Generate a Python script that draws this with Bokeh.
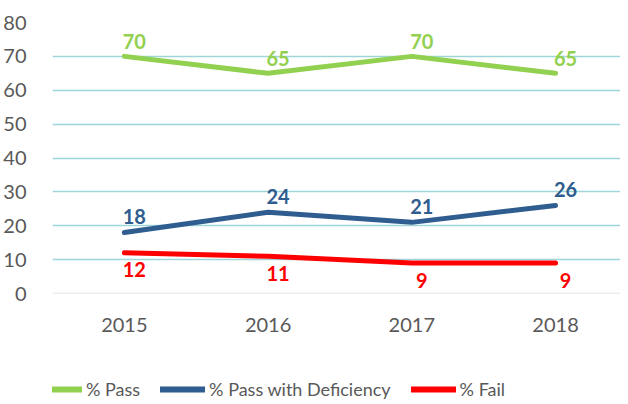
from bokeh.plotting import figure
from bokeh.layouts import column
from bokeh.models import (ColumnDataSource, Range1d, FixedTicker, Span, Legend,
                          LegendItem, LabelSet)
from bokeh.core.properties import value
from bokeh.embed import file_html
from bokeh.resources import INLINE

years = [2015, 2016, 2017, 2018]
year_labels = ["2015", "2016", "2017", "2018"]
pass_vals = [70, 65, 70, 65]
pass_def_vals = [18, 24, 21, 26]
fail_vals = [12, 11, 9, 9]
y_ticks = [0, 10, 20, 30, 40, 50, 60, 70, 80]
series_names = ["% Pass", "% Pass with Deficiency", "% Fail"]

GREEN = "#92D050"
BLUE = "#2F5D8F"
RED = "#FF0000"
GRAY = "#595959"
FONT = "Lato"
colors = [GREEN, BLUE, RED]

p = figure(width=620, height=348, output_backend="svg", toolbar_location=None,
           x_range=Range1d(2014.5, 2018.452), y_range=Range1d(0, 80),
           min_border_left=47, min_border_right=0, min_border_top=22,
           min_border_bottom=55)
p.outline_line_color = None
p.background_fill_color = "white"
p.border_fill_color = "white"

p.yaxis.ticker = FixedTicker(ticks=y_ticks)
p.yaxis.axis_line_color = None
p.yaxis.major_tick_line_color = None
p.yaxis.minor_tick_line_color = None
p.yaxis.major_label_text_font = FONT
p.yaxis.major_label_text_font_size = "20px"
p.yaxis.major_label_text_color = GRAY
p.yaxis.major_label_standoff = 20

p.xaxis.ticker = FixedTicker(ticks=years)
p.xaxis.major_label_overrides = {y: l for y, l in zip(years, year_labels)}
p.xaxis.axis_line_color = None
p.xaxis.major_tick_line_color = None
p.xaxis.minor_tick_line_color = None
p.xaxis.major_label_text_font = FONT
p.xaxis.major_label_text_font_size = "20px"
p.xaxis.major_label_text_color = GRAY
p.xaxis.major_label_standoff = 18

p.xgrid.grid_line_color = None
p.ygrid.ticker = FixedTicker(ticks=y_ticks[1:])
p.ygrid.grid_line_color = "#9FD5D9"
p.ygrid.grid_line_width = 1.5
p.add_layout(Span(location=0, dimension="width", line_color="#D9D9D9", line_width=1.5))

src = ColumnDataSource(dict(x=years, p=pass_vals, d=pass_def_vals, f=fail_vals,
                            pl=[str(v) for v in pass_vals],
                            dl=[str(v) for v in pass_def_vals],
                            fl=[str(v) for v in fail_vals]))

for col, color in zip(["p", "d", "f"], colors):
    p.line("x", col, source=src, line_color=color, line_width=5,
           line_cap="round", line_join="round")

for col, lab, color, yoff in [("p", "pl", GREEN, 15), ("d", "dl", BLUE, 16), ("f", "fl", RED, -17)]:
    ls = LabelSet(x="x", y=col, text=lab, source=src, x_offset=10, y_offset=yoff,
                  text_align="center", text_baseline="middle",
                  text_font=value(FONT), text_font_style="bold", text_font_size="20px",
                  text_color=color)
    p.add_layout(ls)

# legend strip (series lines drawn off-range; only their legend entries show)
lg = figure(width=620, height=56, output_backend="svg", toolbar_location=None,
            x_range=Range1d(0, 1), y_range=Range1d(0, 1),
            x_axis_location=None, y_axis_location=None,
            min_border=0, min_border_left=0, min_border_right=0,
            min_border_top=0, min_border_bottom=0)
lg.grid.visible = False
lg.outline_line_color = None
items = []
for name, col, color in zip(series_names, ["p", "d", "f"], colors):
    r = lg.line("x", col, source=src, line_color=color, line_width=6, line_cap="round")
    items.append(LegendItem(label=name, renderers=[r]))
legend = Legend(items=items, orientation="horizontal", location=(-15, 4),
                glyph_width=45, glyph_height=20, label_standoff=4, spacing=20,
                padding=0, margin=0, border_line_color=None,
                background_fill_alpha=0,
                label_text_font=FONT, label_text_font_size="18px",
                label_text_color=GRAY, label_height=20)
lg.add_layout(legend, "center")

layout = column(p, lg, spacing=0)
html = file_html(layout, INLINE)
open("out.html", "w").write(html)
